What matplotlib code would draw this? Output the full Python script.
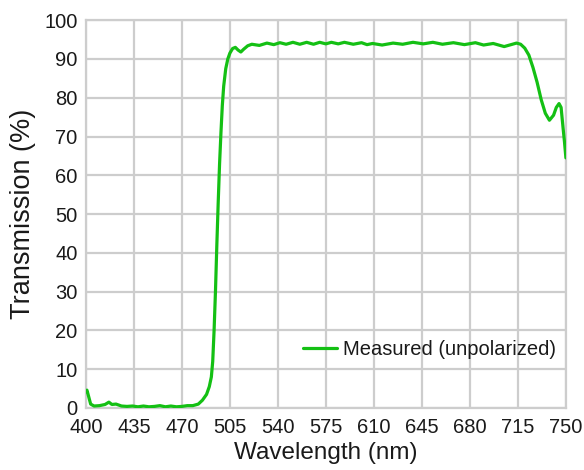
import matplotlib.pyplot as plt

plt.rcParams['font.family'] = ['Liberation Sans', 'DejaVu Sans']

# measured transmission curve (nm, %)
wavelength = [400, 400.8, 402, 403.5, 406, 410, 414, 416.8, 419, 422, 426, 430, 434, 438, 442,
              446, 450, 454, 458, 462, 466, 470, 474, 478, 482, 485, 488, 490, 491.5, 492.5,
              493.5, 494.5, 495.5, 496.5, 497.5, 498.5, 499.5, 500.5, 502, 503.5, 505, 507, 509,
              511, 513, 515, 518, 521, 526.5, 532, 537, 541.5, 546, 551, 556, 561, 566, 570.5,
              575, 579, 584, 588.5, 595, 601, 605, 609, 616, 624, 631, 638.5, 646, 653, 660,
              668, 676, 684, 690, 697, 705, 710, 714, 717, 720, 723, 726, 729, 732, 735, 738,
              741, 743, 745, 746.5, 748, 749, 750]
transmission = [4.2, 4.6, 3.0, 1.0, 0.5, 0.6, 0.9, 1.5, 0.9, 1.0, 0.5, 0.4, 0.5, 0.3, 0.5,
                0.3, 0.4, 0.6, 0.3, 0.5, 0.3, 0.4, 0.6, 0.6, 1.0, 2.0, 3.5, 5.5, 8, 12,
                20, 30, 42, 53, 63, 71, 78, 83, 87.5, 90, 91.5, 92.7, 93.0,
                92.3, 91.8, 92.5, 93.4, 93.8, 93.5, 94.1, 93.7, 94.2, 93.8, 94.3, 93.8, 94.3, 93.8, 94.3,
                93.9, 94.3, 93.9, 94.3, 93.8, 94.2, 93.7, 94.0, 93.6, 94.1, 93.8, 94.3, 93.9, 94.3, 93.8,
                94.2, 93.7, 94.2, 93.6, 94.0, 93.2, 93.7, 94.1, 93.8, 92.8, 91.0, 87.8, 84.0, 79.5, 76.0, 74.2,
                75.5, 77.5, 78.5, 77.5, 72.0, 68.5, 64.5]

x_ticks = [400, 435, 470, 505, 540, 575, 610, 645, 680, 715, 750]
y_ticks = [0, 10, 20, 30, 40, 50, 60, 70, 80, 90, 100]

text_color = '#1a1a1a'
grid_color = '#cdcdcd'

fig = plt.figure(figsize=(5.84, 4.70), dpi=100)
ax = fig.add_axes([0.147, 0.132, 0.822, 0.825])

ax.plot(wavelength, transmission, color='#14c014', linewidth=2.3,
        solid_joinstyle='round', solid_capstyle='round',
        label='Measured (unpolarized)', zorder=3)

ax.set_xlim(400, 750)
ax.set_ylim(0, 100)
ax.set_xticks(x_ticks)
ax.set_yticks(y_ticks)
ax.grid(True, color=grid_color, linewidth=1.6)
ax.set_axisbelow(True)
for spine in ax.spines.values():
    spine.set_color(grid_color)
    spine.set_linewidth(1.6)
ax.tick_params(length=0, labelsize=14.5, labelcolor=text_color)
ax.tick_params(axis='x', pad=7)
ax.tick_params(axis='y', pad=6)

ax.set_xlabel('Wavelength (nm)', fontsize=17.5, color=text_color, labelpad=4)
ax.set_ylabel('Transmission (%)', fontsize=19.5, color=text_color, labelpad=6)

leg = ax.legend(loc='center right', bbox_to_anchor=(0.997, 0.15), frameon=False,
                fontsize=14.5, handlelength=1.7, handletextpad=0.3, borderaxespad=0)
for t in leg.get_texts():
    t.set_color(text_color)

fig.savefig('out.png', dpi=100)
